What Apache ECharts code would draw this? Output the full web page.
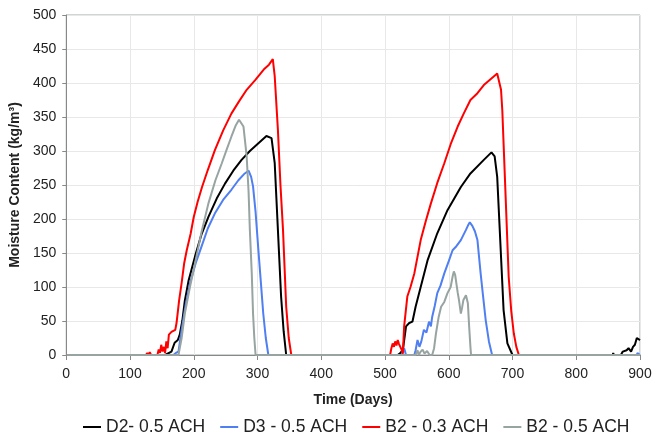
<!DOCTYPE html>
<html>
<head>
<meta charset="utf-8">
<script src="https://cdn.jsdelivr.net/npm/echarts@6/dist/echarts.min.js"></script>
<style>
html,body{margin:0;padding:0;background:#fff;}
#chart{width:662px;height:434px;}
</style>
</head>
<body>
<div id="chart"></div>
<script>
// ---- Data ----
var seriesNames = ['D2- 0.5 ACH', 'D3 - 0.5 ACH', 'B2 - 0.3 ACH', 'B2 - 0.5 ACH'];

var d2Days = [0, 155, 165, 170, 175, 178, 182, 186, 192, 202, 212, 223, 236, 249, 262, 275, 288, 301, 314, 322, 327, 332, 337, 341, 345,
  520, 524, 528, 533, 538, 543, 548, 556, 567, 582, 598, 619, 634, 655, 667, 672, 676, 681, 686, 692, 700,
  857, 858, 859, 870, 873, 876, 879, 882, 886, 889, 892, 895, 897, 900];
var d2Vals = [0, 0, 5, 18, 22, 30, 50, 80, 110, 145, 177, 203, 230, 252, 271, 287, 300, 311, 322, 319, 282, 184, 86, 35, 0,
  0, 3, 7, 42, 47, 49, 71, 100, 140, 179, 213, 247, 267, 287, 298, 292, 262, 164, 66, 17, 0,
  0, 3, 0, 0, 5, 3, 7, 10, 5, 12, 15, 25, 24, 22];

var d3Days = [0, 168, 172, 176, 181, 187, 194, 203, 212, 222, 233, 246, 259, 270, 280, 286, 290, 293, 297, 301, 305, 309, 313, 317,
  526, 530, 533, 546, 548, 551, 554, 557, 561, 565, 569, 572, 574, 578, 582, 587, 593, 600, 606, 612, 619, 627, 631, 633, 637, 641, 645, 650, 654, 658, 663, 668,
  895, 896, 898, 900];
var d3Vals = [0, 0, 3, 5, 37, 72, 105, 135, 159, 186, 208, 228, 243, 257, 267, 271, 262, 248, 210, 159, 110, 61, 25, 0,
  0, 10, 0, 0, 7, 22, 12, 20, 37, 33, 49, 42, 56, 72, 91, 102, 120, 138, 154, 160, 169, 184, 192, 195, 190, 182, 169, 120, 85, 51, 20, 0,
  0, 3, 3, 0];

var b203Days = [0, 125, 127, 129, 131, 133, 143, 145, 147, 149, 151, 153, 155, 157, 159, 161, 163, 165, 168, 171, 173, 177, 181, 185, 189, 195, 200, 206, 213, 222, 233, 246, 259, 271, 283, 297, 311, 318, 324, 327, 332, 336, 340, 345, 349, 353,
  508, 510, 512, 514, 516, 518, 520, 522, 524, 526, 528, 530, 535, 540, 546, 556, 564, 572, 582, 593, 603, 614, 624, 634, 645, 655, 666, 676, 679, 682, 684, 689, 694, 698, 702, 706, 710, 900];
var b203Vals = [0, 0, 3, 0, 4, 0, 0, 8, 3, 15, 5, 12, 3, 20, 10, 30, 28, 34, 36, 37, 47, 80, 106, 135, 154, 178, 203, 225, 247, 272, 301, 330, 355, 373, 390, 405, 421, 427, 435, 410, 331, 250, 184, 71, 25, 0,
  0, 10, 17, 12, 20, 14, 22, 16, 18, 8, 2, 42, 86, 100, 120, 169, 197, 223, 253, 282, 310, 336, 356, 375, 385, 397, 406, 414, 413, 390, 360, 238, 115, 65, 32, 12, 0, 0];

var b205Days = [0, 176, 181, 186, 194, 202, 212, 223, 234, 244, 252, 259, 266, 271, 274, 278, 283, 286, 288, 291, 293, 295, 297,
  548, 551, 553, 556, 559, 562, 566, 570, 574, 577, 580, 584, 588, 593, 598, 603, 606, 608, 610, 612, 614, 616, 619, 621, 623, 627, 630, 632, 634, 635, 900];
var b205Vals = [0, 0, 25, 61, 100, 135, 180, 223, 257, 282, 303, 321, 338, 346, 345, 336, 292, 240, 184, 120, 61, 25, 0,
  0, 7, 0, 5, 8, 2, 6, 0, 0, 10, 32, 55, 71, 78, 91, 100, 115, 123, 118, 105, 92, 81, 61, 70, 81, 88, 76, 42, 12, 0, 0];

var xTicks = [0, 100, 200, 300, 400, 500, 600, 700, 800, 900];
var yTicks = [0, 50, 100, 150, 200, 250, 300, 350, 400, 450, 500];

var colors = ['#000000', '#4f7ff0', '#ff0000', '#97a4a2'];

function pairs(xs, ys) { return xs.map(function (x, i) { return [x, ys[i]]; }); }
var allDays = [d2Days, d3Days, b203Days, b205Days];
var allVals = [d2Vals, d3Vals, b203Vals, b205Vals];

var font = 'Liberation Sans, Arial, sans-serif';
var chart = echarts.init(document.getElementById('chart'), null, { renderer: 'canvas' });
chart.setOption({
  animation: false,
  backgroundColor: '#ffffff',
  color: colors,
  grid: { left: 64, top: 15, right: 22, bottom: 79, show: true, borderColor: '#9fa9a8', borderWidth: 1, backgroundColor: 'transparent' },
  legend: {
    data: seriesNames,
    left: 78,
    top: 413,
    itemWidth: 18,
    itemHeight: 2,
    itemGap: 15,
    icon: 'rect',
    textStyle: { fontFamily: font, fontSize: 17.5, color: '#222' }
  },
  xAxis: {
    type: 'value',
    min: xTicks[0], max: xTicks[xTicks.length - 1], interval: 100,
    name: 'Time (Days)',
    nameLocation: 'middle',
    nameGap: 38,
    nameTextStyle: { fontFamily: font, fontSize: 14, fontWeight: 'bold', color: '#222' },
    axisLine: { show: true, onZero: false, lineStyle: { color: '#888888', width: 1 } },
    axisTick: { show: true, length: 5, lineStyle: { color: '#888888' } },
    axisLabel: { fontFamily: font, fontSize: 14, color: '#222', margin: 12 },
    splitLine: { show: true, lineStyle: { color: '#e8e8e8', width: 1 } }
  },
  yAxis: {
    type: 'value',
    min: yTicks[0], max: yTicks[yTicks.length - 1], interval: 50,
    name: 'Moisture Content (kg/m³)',
    nameLocation: 'middle',
    nameGap: 37,
    nameTextStyle: { fontFamily: font, fontSize: 14, fontWeight: 'bold', color: '#222' },
    axisLine: { show: true, lineStyle: { color: '#888888', width: 1 } },
    axisTick: { show: true, length: 4, lineStyle: { color: '#888888' } },
    axisLabel: { fontFamily: font, fontSize: 14, color: '#222', margin: 10 },
    splitLine: { show: true, lineStyle: { color: '#e8e8e8', width: 1 } }
  },
  series: seriesNames.map(function (n, i) {
    return {
      name: n,
      type: 'line',
      data: pairs(allDays[i], allVals[i]),
      showSymbol: false,
      symbol: 'none',
      lineStyle: { width: 2, color: colors[i] },
      itemStyle: { color: colors[i] },
      z: 2 + i
    };
  })
});
</script>
</body>
</html>
